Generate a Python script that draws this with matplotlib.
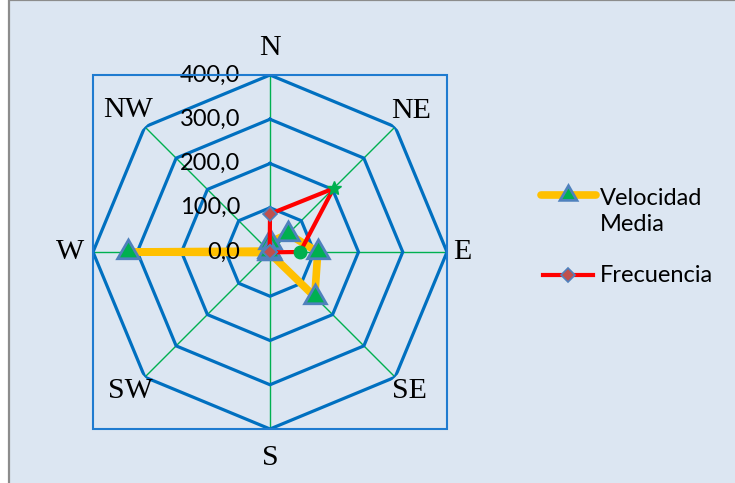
import numpy as np
import matplotlib
matplotlib.use("Agg")
import matplotlib.pyplot as plt
from matplotlib.patches import Rectangle
from matplotlib.lines import Line2D

# data
directions = ["N", "NE", "E", "SE", "S", "SW", "W", "NW"]
velocidad_media = [22, 58, 108, 143, 3, 2, 322, 3]
frecuencia = [86, 203, 68, 1, 1, 1, 1, 1]
ring_values = [100, 200, 300, 400]
tick_labels = ["0,0", "100,0", "200,0", "300,0", "400,0"]
series_names = ["Velocidad\nMedia", "Frecuencia"]

W_PX, H_PX = 735, 483
BG = "#dce6f2"
GRID_BLUE = "#0070c0"
SPOKE_GREEN = "#00b050"
YELLOW = "#ffc000"
RED = "#ff0000"
TRI_FILL = "#00b050"
TRI_EDGE = "#4f81bd"
DIA_FILL = "#c0504d"

SANS = ["Lato", "DejaVu Sans"]
SERIF = ["Liberation Serif", "DejaVu Serif"]


def fx(x):
    return x / W_PX


def fy(y):
    return 1 - y / H_PX


def closed(vals):
    return list(vals) + [vals[0]]


fig = plt.figure(figsize=(W_PX / 100, H_PX / 100), dpi=100, facecolor="white")

# chart area with grey frame
fig.add_artist(Rectangle((fx(9), fy(500)), fx(740), 500 / H_PX, transform=fig.transFigure,
                         facecolor=BG, edgecolor="#8c8c8c", lw=1.6, zorder=0))

left, top, size = 93, 75, 354
ax = fig.add_axes([fx(left), fy(top + size), fx(size), size / H_PX], projection="polar")
ax.set_theta_zero_location("N")
ax.set_theta_direction(-1)
ax.set_ylim(0, 400)
ax.set_xticks([])
ax.set_yticks([])
ax.grid(False)
ax.spines["polar"].set_visible(False)
ax.patch.set_alpha(0)

# plot-area square
fig.add_artist(Rectangle((fx(left), fy(top + size)), fx(size), size / H_PX,
                         transform=fig.transFigure, fill=False, edgecolor="#1f7bd0", lw=1.5))

theta = np.deg2rad(np.arange(len(directions)) * 45.0)
theta_c = closed(list(theta))

# spokes and octagon rings
for t in theta:
    ax.plot([t, t], [0, 400], color=SPOKE_GREEN, lw=1.0, zorder=1)
for r in ring_values:
    ax.plot(theta_c, [r] * len(theta_c), color=GRID_BLUE, lw=2.3, zorder=2,
            solid_joinstyle="miter")

# radial tick labels (drawn above the series, as in the original)
for i, lbl in enumerate(tick_labels):
    ax.annotate(lbl, xy=(0, i * 100), xytext=(-21.5, 0), textcoords="offset points",
                ha="right", va="center", fontsize=17, family=SANS, color="black", zorder=20)

# direction labels
label_r = [462, 452, 434, 445, 466, 445, 452, 455]
for t, d, r in zip(theta, directions, label_r):
    ax.text(t, r, d, ha="center", va="center", fontsize=21.5, family=SERIF,
            color="black", clip_on=False)

# series 1: velocidad media
ax.plot(theta_c, closed(velocidad_media), color=YELLOW, lw=5.5, zorder=5,
        solid_capstyle="round", solid_joinstyle="round", clip_on=False)
ax.plot(theta, velocidad_media, ls="none", marker=(3, 0, 0), ms=18, mfc=TRI_FILL,
        mec=TRI_EDGE, mew=2, zorder=6, clip_on=False)

# series 2: frecuencia (two points carry their own green markers)
ax.plot(theta_c, closed(frecuencia), color=RED, lw=3, zorder=7,
        solid_joinstyle="round", clip_on=False)
special = {1: ("*", 10), 2: ("o", 9)}
for i, (t, v) in enumerate(zip(theta, frecuencia)):
    if i in special:
        m, ms = special[i]
        ax.plot([t], [v], ls="none", marker=m, ms=ms, mfc=SPOKE_GREEN, mec=SPOKE_GREEN,
                zorder=8, clip_on=False)
    else:
        ax.plot([t], [v], ls="none", marker="D", ms=7.5, mfc=DIA_FILL, mec=TRI_EDGE,
                mew=1.2, zorder=8, clip_on=False)

# legend, drawn by hand so the handle sits on the first text line
fig.add_artist(Line2D([fx(541), fx(596)], [fy(195), fy(195)], transform=fig.transFigure,
                      color=YELLOW, lw=5.5, solid_capstyle="round"))
fig.add_artist(Line2D([fx(568)], [fy(195)], transform=fig.transFigure, ls="none",
                      marker=(3, 0, 0), ms=14, mfc=TRI_FILL, mec=TRI_EDGE, mew=2))
fig.text(fx(600), fy(211.5), series_names[0], ha="left", va="center", fontsize=17,
         family=SANS, linespacing=1.35)

fig.add_artist(Line2D([fx(543), fx(593)], [fy(275), fy(275)], transform=fig.transFigure,
                      color=RED, lw=3))
fig.add_artist(Line2D([fx(568)], [fy(275)], transform=fig.transFigure, ls="none",
                      marker="D", ms=7.5, mfc=DIA_FILL, mec=TRI_EDGE, mew=1.2))
fig.text(fx(600), fy(275), series_names[1], ha="left", va="center", fontsize=17, family=SANS)

fig.savefig("out.png", dpi=100, facecolor=fig.get_facecolor())
